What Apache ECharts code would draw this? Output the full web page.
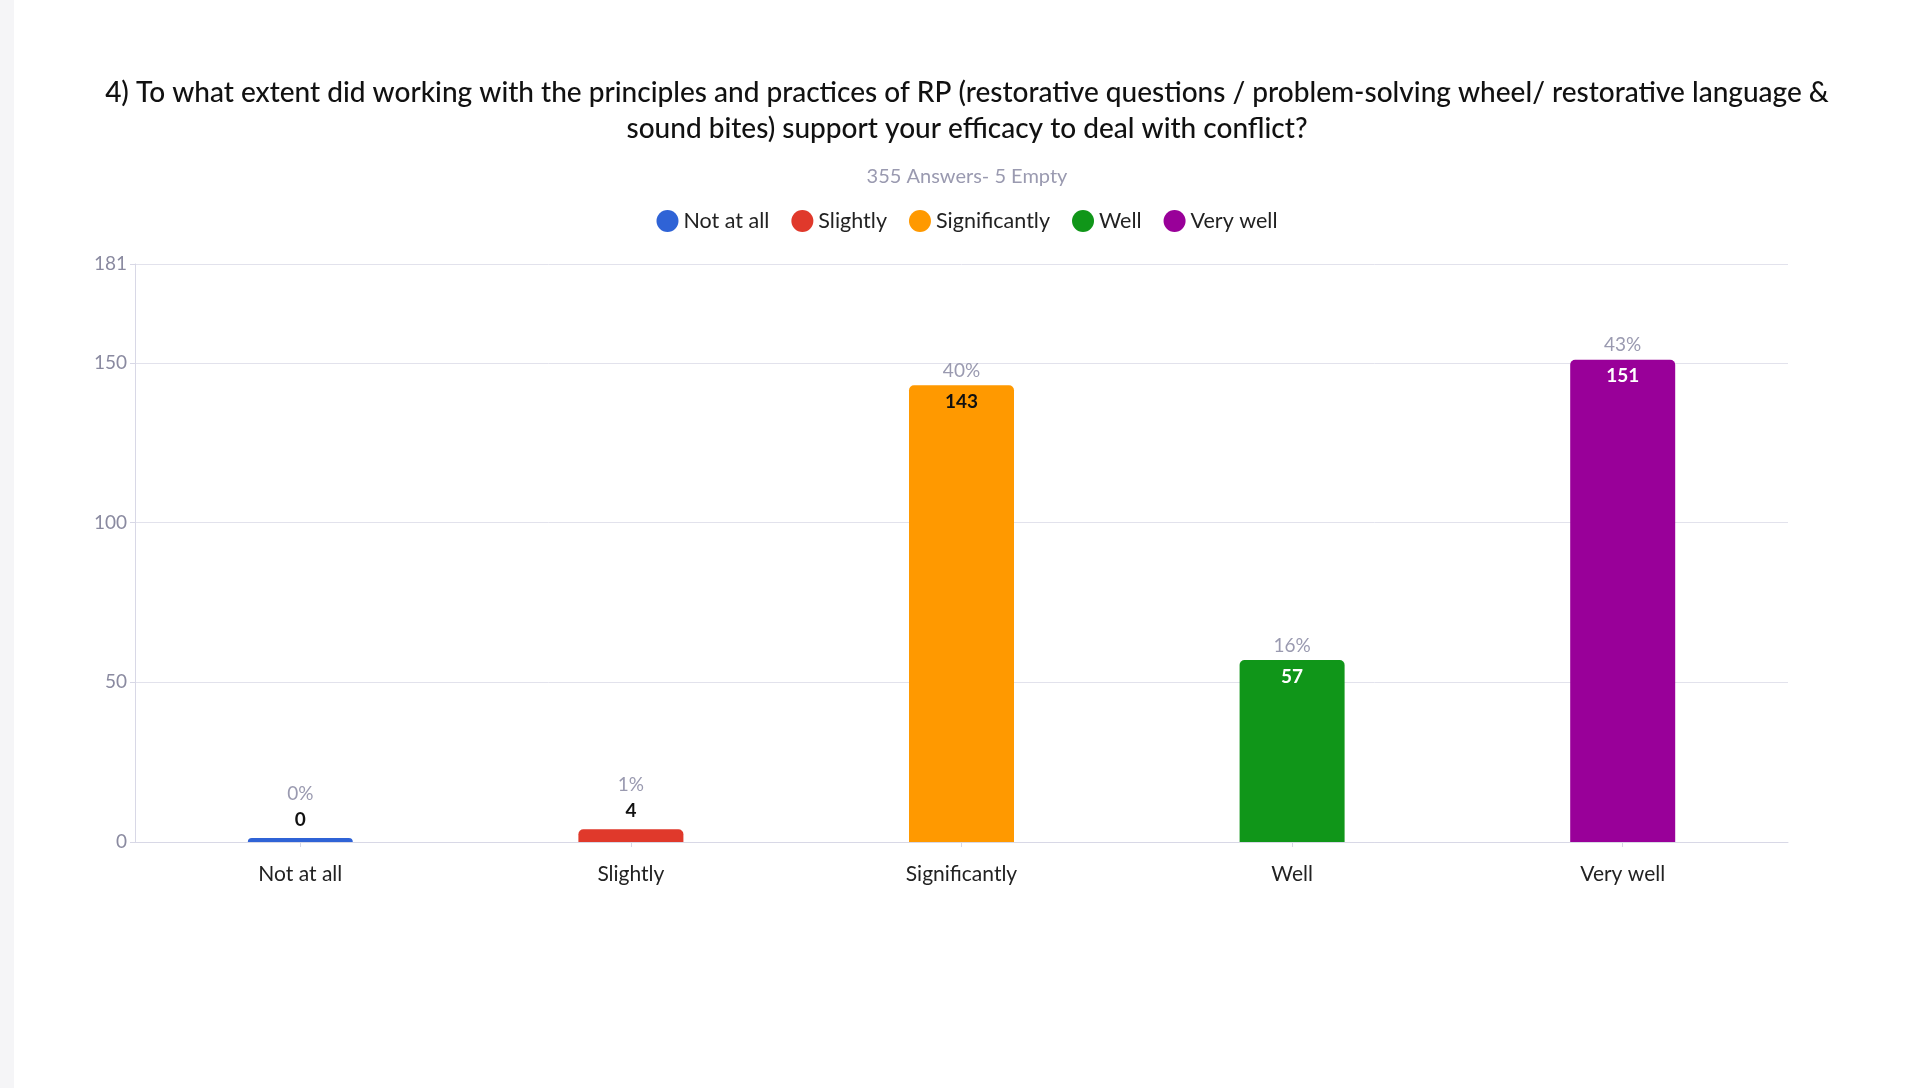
<!DOCTYPE html>
<html>
<head>
<meta charset="UTF-8">
<script src="https://cdn.jsdelivr.net/npm/echarts@6/dist/echarts.min.js"></script>
<style>
  html, body { margin: 0; padding: 0; background: #f5f5f7; }
  #chart { position: absolute; left: 14px; top: 0; width: 1906px; height: 1088px; background: #fff; }
</style>
</head>
<body>
<div id="chart"></div>
<script>
var categories = ['Not at all', 'Slightly', 'Significantly', 'Well', 'Very well'];
var counts = [0, 4, 143, 57, 151];
var percents = ['0%', '1%', '40%', '16%', '43%'];
var colors = ['#2f63d6', '#e0392b', '#ff9900', '#109619', '#990099'];
var valueColors = ['#111', '#111', '#111', '#fff', '#fff'];

var chart = echarts.init(document.getElementById('chart'));
var font = 'Lato, "Noto Sans", sans-serif';

var series = categories.map(function (name, i) {
  var inside = counts[i] > 20;
  var lh = inside ? 31 : 26;
  return {
    name: name,
    type: 'bar',
    stack: 'all',
    barWidth: 105,
    barMinHeight: 4,
    itemStyle: { color: colors[i], borderRadius: [5, 5, 0, 0] },
    data: categories.map(function (c, j) {
      if (j !== i) return null;
      return {
        value: counts[i],
        label: {
          show: true,
          position: 'top',
          offset: [0, inside ? 37 : 0],
          formatter: '{p|' + percents[i] + '}\n{v|' + counts[i] + '}',
          rich: {
            p: { color: '#9a9ab0', fontSize: 19, fontFamily: font, lineHeight: lh },
            v: { color: valueColors[i], fontSize: 19, fontWeight: 'bold', fontFamily: font, lineHeight: lh }
          }
        }
      };
    })
  };
});

chart.setOption({
  animation: false,
  title: {
    text: '4) To what extent did working with the principles and practices of RP (restorative questions / problem-solving wheel/ restorative language &\nsound bites) support your efficacy to deal with conflict?',
    subtext: '355 Answers- 5 Empty',
    left: 'center',
    top: 70,
    itemGap: 20,
    textStyle: { fontFamily: font, fontSize: 28, fontWeight: 500, color: '#111', lineHeight: 36 },
    subtextStyle: { fontFamily: font, fontSize: 20, color: '#9a9ab0' }
  },
  legend: {
    top: 205,
    left: 'center',
    icon: 'circle',
    itemWidth: 22,
    itemHeight: 22,
    itemGap: 22,
    textStyle: { fontFamily: font, fontSize: 21.5, color: '#222' },
    data: categories
  },
  grid: { left: 121, right: 132, top: 264, bottom: 246 },
  xAxis: {
    type: 'category',
    data: categories,
    axisLine: { lineStyle: { color: '#d8d8e6' } },
    axisTick: { show: true, alignWithLabel: true, lineStyle: { color: '#d8d8e6' } },
    axisLabel: { fontFamily: font, fontSize: 21, color: '#222', margin: 22 }
  },
  yAxis: {
    type: 'value',
    min: 0,
    max: 181,
    interval: 50,
    axisLine: { show: true, lineStyle: { color: '#d8d8e6' } },
    axisTick: { show: true, lineStyle: { color: '#d8d8e6' } },
    splitLine: { lineStyle: { color: '#e2e2ec' } },
    axisLabel: { fontFamily: font, fontSize: 19, color: '#8a8aa0' }
  },
  series: series
});
</script>
</body>
</html>
